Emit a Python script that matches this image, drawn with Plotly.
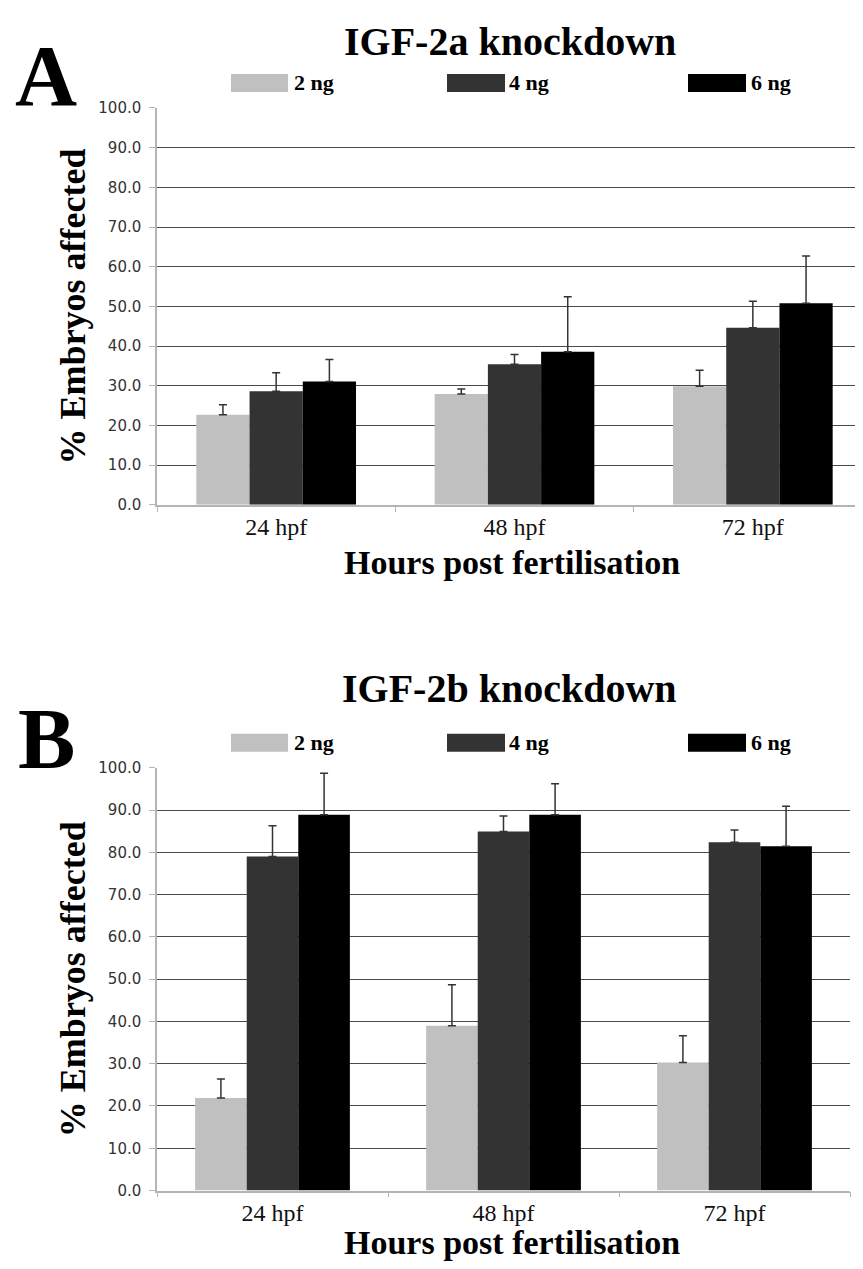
import plotly.graph_objects as go

# Reference canvas is 863x1269; the page body adds a margin, so the
# figure is sized to fit inside the window and coordinates are mapped.
REF_W, REF_H = 863, 1269
OFF = 8
W, H = REF_W - 2 * OFF, REF_H - 2 * OFF
Y_OFF, Y_SCALE = 17.0, 0.986   # empirical vertical mapping of the page capture

categories = ["24 hpf", "48 hpf", "72 hpf"]
doses = ["2 ng", "4 ng", "6 ng"]
colors = ["#c0c0c0", "#333333", "#000000"]
y_ticks = [0, 10, 20, 30, 40, 50, 60, 70, 80, 90, 100]
y_tick_labels = ["0.0", "10.0", "20.0", "30.0", "40.0", "50.0", "60.0", "70.0", "80.0", "90.0", "100.0"]

# Panel A: IGF-2a knockdown (mean, upper error bar length)
a_2ng = [22.7, 27.9, 29.9]
a_4ng = [28.6, 35.4, 44.6]
a_6ng = [31.1, 38.6, 50.8]
a_2ng_err = [2.5, 1.3, 4.0]
a_4ng_err = [4.7, 2.5, 6.7]
a_6ng_err = [5.5, 13.8, 11.9]

# Panel B: IGF-2b knockdown
b_2ng = [21.9, 39.0, 30.3]
b_4ng = [79.0, 84.9, 82.4]
b_6ng = [88.9, 88.9, 81.4]
b_2ng_err = [4.5, 9.7, 6.3]
b_4ng_err = [7.3, 3.7, 2.9]
b_6ng_err = [9.8, 7.3, 9.5]

A_vals = [a_2ng, a_4ng, a_6ng]
A_errs = [a_2ng_err, a_4ng_err, a_6ng_err]
B_vals = [b_2ng, b_4ng, b_6ng]
B_errs = [b_2ng_err, b_4ng_err, b_6ng_err]


def px(x):
    return (x - OFF) / W


def py(y):
    fy = (y - Y_OFF) / Y_SCALE
    return 1 - fy / H


SERIF = "Liberation Serif, Times New Roman, serif"
SANS = "DejaVu Sans, Verdana, sans-serif"

fig = go.Figure()

for vals, errs, xa, ya in [(A_vals, A_errs, "x", "y"), (B_vals, B_errs, "x2", "y2")]:
    for name, col, v, e in zip(doses, colors, vals, errs):
        fig.add_trace(go.Bar(
            x=categories, y=v, name=name, marker=dict(color=col, line=dict(width=0)),
            error_y=dict(type="data", array=e, symmetric=False, arrayminus=[0] * len(e),
                         color="#333333", thickness=1.5, width=4),
            xaxis=xa, yaxis=ya, showlegend=False,
        ))

# panel geometry (reference pixels)
A_left, A_right_cat_end = 157, 872
A_top, A_bot = 108, 505
B_left, B_right = 157, 850
B_top, B_bot = 768, 1191

A_range_right = -0.5 + 3 * (REF_W - OFF - A_left) / (A_right_cat_end - A_left)

common_y = dict(
    range=[0, 100], tickvals=y_ticks, ticktext=y_tick_labels,
    showgrid=True, gridcolor="#4a4a4a", gridwidth=1.3, zeroline=False,
    showline=True, linecolor="#b4b4b4", linewidth=1.5,
    ticks="outside", ticklen=6, tickcolor="#b4b4b4", tickwidth=1.2,
    tickfont=dict(family=SANS, size=15, color="#333333"),
    ticklabelstandoff=5, fixedrange=True,
)
common_x = dict(
    type="category", showgrid=False, zeroline=False,
    showline=True, linecolor="#b4b4b4", linewidth=1.5,
    ticks="outside", ticklen=5, tickcolor="#b4b4b4", tickwidth=1.2,
    tickson="boundaries",
    tickfont=dict(family=SERIF, size=24, color="#111111"),
    ticklabelstandoff=0,
    fixedrange=True,
)

fig.update_layout(
    width=W, height=H, margin=dict(l=0, r=0, t=0, b=0),
    paper_bgcolor="white", plot_bgcolor="white",
    barmode="group", bargap=0.33, bargroupgap=0,
    xaxis=dict(domain=[px(A_left), 1.0], range=[-0.5, A_range_right], anchor="y", **common_x),
    yaxis=dict(domain=[py(A_bot), py(A_top)], anchor="x", **common_y),
    xaxis2=dict(domain=[px(B_left), px(B_right)], range=[-0.5, 2.5], anchor="y2", **common_x),
    yaxis2=dict(domain=[py(B_bot), py(B_top)], anchor="x2", **common_y),
)

annotations = []
shapes = []


def text(x, y, s, size, family=SERIF, bold=True, xanchor="center", textangle=0,
         yanchor="middle", ypaper=None):
    annotations.append(dict(
        x=px(x), y=py(y) if ypaper is None else ypaper, xref="paper", yref="paper",
        text=f"<b>{s}</b>" if bold else s,
        showarrow=False, xanchor=xanchor, yanchor=yanchor, textangle=textangle,
        font=dict(family=family, size=size, color="#000000"),
    ))


panels = [
    dict(title="IGF-2a knockdown", letter="A", title_y=28, letter_y=76, legend_y=83,
         ytitle_y=(A_top + A_bot) / 2, xtitle_y=563),
    dict(title="IGF-2b knockdown", letter="B", title_y=689, letter_y=739, legend_y=743,
         ytitle_y=(B_top + B_bot) / 2, xtitle_y=1243),
]

swatch_x = [(231, 288), (447, 505), (688, 746)]
label_x = [292, 507, 749]

for i, p in enumerate(panels):
    if i == 0:
        # keep the top title fully inside the page
        text(510, 0, p["title"], 40, yanchor="top", ypaper=1.0)
    else:
        text(510, p["title_y"], p["title"], 40)
    text(46, p["letter_y"], p["letter"], 86)
    text(512, p["xtitle_y"], "Hours post fertilisation", 34)
    text(73, p["ytitle_y"], "% Embryos affected", 36, textangle=-90)
    for (x0, x1), lx, name, col in zip(swatch_x, label_x, doses, colors):
        shapes.append(dict(type="rect", xref="paper", yref="paper",
                           x0=px(x0), x1=px(x1), y0=py(p["legend_y"] + 9), y1=py(p["legend_y"] - 9),
                           fillcolor=col, line=dict(width=0)))
        text(lx, p["legend_y"], name, 22, xanchor="left")

fig.update_layout(annotations=annotations, shapes=shapes)

fig.write_html("out.html")
